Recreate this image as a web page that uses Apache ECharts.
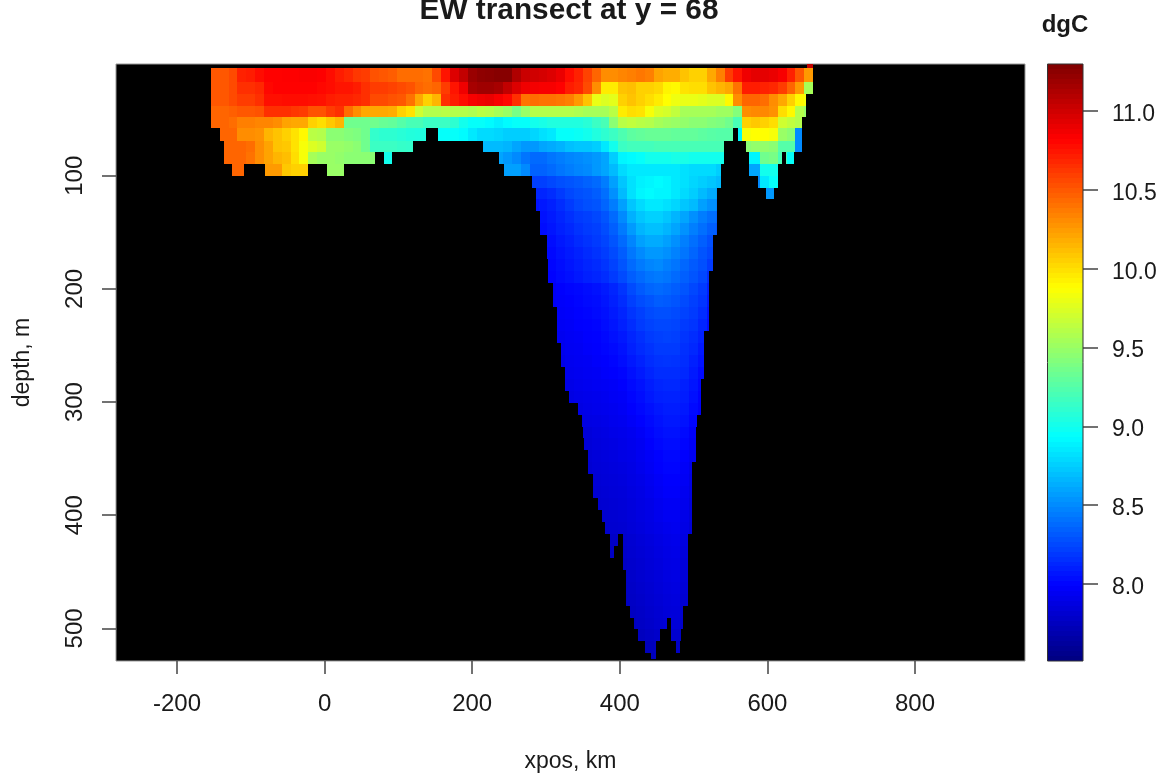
<!DOCTYPE html>
<html><head><meta charset="utf-8">
<style>html,body{margin:0;padding:0;background:#fff}#c{width:1170px;height:778px}</style>
<script src="https://cdn.jsdelivr.net/npm/echarts@6/dist/echarts.min.js"></script>
</head><body><div id="c"></div>
<script>
const xTicks = [-200,0,200,400,600,800];
const yTicks = [100,200,300,400,500];
const cbTicks = [8,8.5,9,9.5,10,10.5,11];
const tempMin = 7.512, tempMax = 11.298;
const jet = ['#00007F','#0000FF','#007FFF','#00FFFF','#7FFF7F','#FFFF00','#FF7F00','#FF0000','#7F0000'];
const blockStartKm = -154, blockKm = 12;
const depthEdges = [1.3,5.2,17,27.6,38.2,48,58,69,79,89.5,100,110.5,121,131.6,142.2,152.8,163.3,173.9,184.4,195,205.5,216,226.6,237.1,247.7,258.3,268.8,279.4,289.9,300.5,311,321.6,332.1,342.7,353.2,363.8,374.3,384.9,395.4,406,416.5,427.1,437.6,448.2,458.7,469.3,479.8,490.4,500.9,511.5,522,527.4];
// water extent of each depth row, km
const rowSpans = [
[[653.5,666]],
[[-154,666]],[[-154,666]],[[-154,652]],[[-154,652]],[[-154,647.5]],
[[-142,137],[154,553],[560,647.5]],
[[-136.5,119.6],[214.5,541],[571,647.5]],
[[-136.5,68],[80.4,91],[236,541],[575,620],[625,636]],
[[-126,-109],[-81,-21],[3,26],[243,537],[575,615]],
[[280.5,537],[587,615]],[[286,531.6],[598,609]],[[286,531.6]],[[292,531.6]],[[292,531.6]],
[[298.5,526]],[[298.5,526]],[[302.6,526]],[[302.6,520.7]],[[309,520.7]],[[309,520.7]],
[[315,520.7]],[[315,520.7]],[[315,514]],[[320,514]],[[320,514]],[[325.6,514]],[[325.6,510]],
[[331,510]],[[343,510]],[[348.6,504]],[[348.6,503]],[[351,503]],[[357,503]],[[357,497.6]],
[[363.5,497.6]],[[363.5,497.6]],[[370,497.6]],[[375.5,497.6]],[[380,497.6]],
[[386.5,398],[404,492]],[[386.5,392],[404,492]],[[404,492]],[[408,492]],[[408,492]],[[408,492]],
[[414,485.5]],[[419,464],[469,485.5]],[[425,454],[469,483]],[[433,449],[476,483]],[[442,449]]
];
// first 12 km block of each row
const rowFirstBlock = [67,0,0,0,0,0,0,0,0,0,
36,36,36,36,36,36,36,36,36,36,36,36,36,36,
39,39,40,40,40,41,41,42,42,42,42,43,43,43,44,44,45,45,46,46,46,46,47,47,48,49,49];
const rowTemps = [
[11.05],
[10.5,10.5,10.55,10.7,10.72,10.78,10.82,10.82,10.83,10.83,10.84,10.84,10.83,10.78,10.72,10.68,10.62,10.6,10.52,10.5,10.48,10.42,10.42,10.42,10.4,10.55,10.75,10.95,11.05,11.2,11.24,11.25,11.27,11.27,11.12,11.02,11,10.98,10.95,10.9,10.78,10.7,10.58,10.45,10.3,10.3,10.33,10.35,10.38,10.35,10.22,10.18,10.18,10.1,10.05,10.05,10.2,10.35,10.6,10.75,10.88,10.92,10.92,10.9,10.85,10.7,10.5,10.25],
[10.5,10.5,10.55,10.65,10.65,10.68,10.8,10.82,10.82,10.82,10.82,10.82,10.8,10.78,10.75,10.75,10.72,10.65,10.6,10.6,10.58,10.55,10.52,10.45,10.42,10.45,10.6,10.75,10.88,11.15,11.18,11.18,11.15,11.05,10.95,10.88,10.86,10.85,10.85,10.82,10.72,10.68,10.55,10.3,9.95,9.95,10.1,10.12,10.05,10.05,10.02,9.92,9.9,9.98,10,10,10.1,10.15,10.2,10.4,10.72,10.72,10.7,10.68,10.6,10.45,10.25,9.55],
[10.5,10.5,10.55,10.6,10.6,10.65,10.77,10.77,10.78,10.78,10.78,10.77,10.76,10.72,10.7,10.7,10.68,10.65,10.55,10.55,10.52,10.5,10.4,10.2,10.05,10.15,10.65,10.72,10.78,10.85,10.88,10.9,10.85,10.8,10.65,10.4,10.42,10.4,10.4,10.38,10.35,10.25,10.1,9.8,9.75,9.78,10.05,10.1,10.05,10,9.95,9.88,9.82,9.8,9.8,9.78,9.75,9.75,9.9,10.3,10.45,10.45,10.42,10.3,10.2,10.05,9.9,9.85],
[10.45,10.45,10.47,10.5,10.5,10.52,10.65,10.65,10.65,10.62,10.6,10.52,10.52,10.6,10.65,10.42,10.3,10.2,10.2,10.2,10.18,10.05,9.98,9.7,9.6,9.6,9.62,9.6,9.6,9.58,9.62,9.6,9.55,9.5,9.38,9.5,9.6,9.6,9.6,9.6,9.6,9.58,9.55,9.55,9.55,9.62,9.95,10,9.98,9.85,9.75,9.72,9.65,9.55,9.55,9.55,9.55,9.52,9.52,9.42,10.3,10.32,10.32,10.28,10,9.9,9.6,9.5],
[10.45,10.45,10.42,10.35,10.35,10.33,10.33,10.3,10.22,10.2,10.2,10.05,10,10.08,10.15,9.35,9.35,9.35,9.35,9.32,9.3,9.25,9.2,9.2,9.15,9.15,9.15,9.1,9,8.95,8.95,8.92,8.88,8.92,8.95,8.95,9,9.02,9.05,9.05,9.05,9.05,9.08,9.15,9.2,9.45,9.62,9.65,9.62,9.6,9.55,9.52,9.5,9.48,9.45,9.45,9.42,9.4,9.35,9.2,10.05,10.08,10.05,10,9.7,9.65,9.6,null],
[null,10.45,10.45,10.3,10.3,10.28,10.15,10.1,10.05,9.98,9.9,9.62,9.6,9.45,9.45,9.42,9.4,9.35,9.12,9.1,9.1,9.08,9.06,9.05,9.05,8.95,8.95,8.95,8.92,8.85,8.8,8.8,8.78,8.75,8.75,8.75,8.78,8.82,8.85,8.95,8.95,8.97,9,9.05,9.1,9.15,9.22,9.28,9.3,9.32,9.32,9.32,9.3,9.3,9.3,9.28,9.26,9.25,9.25,8.9,9.85,9.88,9.88,9.85,9.5,9.45,8.5,null],
[null,10.45,10.45,10.45,10.42,10.3,10.22,10.1,10.08,9.98,9.85,9.75,9.7,9.5,9.5,9.48,9.45,9.35,9.15,9.15,9.15,9.13,9.12,null,null,null,null,null,null,null,8.68,8.68,8.68,8.66,8.6,8.55,8.55,8.6,8.62,8.65,8.7,8.72,8.72,8.75,8.85,9,9.15,9.18,9.18,9.18,9.2,9.2,9.2,9.2,9.2,9.2,9.2,9.2,null,null,9.45,9.48,9.48,9.45,9.25,9.25,8.5,null],
[null,10.45,10.45,10.45,10.4,10.3,10.22,10.15,10.12,10,9.85,9.55,9.5,9.5,9.48,9.45,9.45,9.45,9.45,9,9,null,null,null,null,null,null,null,null,null,null,null,8.6,8.55,8.5,8.42,8.38,8.38,8.42,8.45,8.48,8.5,8.52,8.55,8.6,8.75,8.9,8.92,8.95,9,9,9,9.02,9.02,9,9,9,9,null,null,8.9,8.9,9.35,9.38,9.2,8.95,null,null],
[null,null,10.45,10.45,null,null,10.25,10.25,10.08,10.05,10.05,null,null,9.5,9.5,null,null,null,null,null,null,null,null,null,null,null,null,null,null,null,null,null,null,8.58,8.58,8.5,8.35,8.35,8.38,8.42,8.45,8.48,8.5,8.55,8.6,8.68,8.8,8.85,8.85,8.85,8.85,8.85,8.85,8.82,8.8,8.8,8.8,8.75,null,null,8.6,8.6,9,9,9,null,null,null],
[8.22,8.22,8.25,8.28,8.3,8.32,8.35,8.38,8.45,8.58,8.72,8.82,8.88,8.9,8.92,8.9,8.85,8.82,8.78,8.75,8.72,8.68,null,null,null,8.5,8.85,8.95,8.95],
[8.12,8.12,8.15,8.2,8.25,8.28,8.3,8.33,8.4,8.52,8.68,8.82,8.9,8.92,8.9,8.9,8.85,8.8,8.75,8.68,8.62,8.58,null,null,null,null,8.55,8.55],
[8.05,8.07,8.1,8.15,8.2,8.25,8.28,8.3,8.36,8.45,8.58,8.72,8.8,8.85,8.85,8.82,8.78,8.72,8.68,8.58,8.52,8.48],
[null,8.05,8.08,8.12,8.16,8.2,8.22,8.25,8.3,8.38,8.5,8.64,8.72,8.76,8.76,8.72,8.66,8.6,8.52,8.45,8.4,8.36],
[null,8.03,8.06,8.1,8.13,8.17,8.2,8.22,8.27,8.34,8.44,8.56,8.66,8.7,8.7,8.66,8.6,8.53,8.46,8.4,8.34,8.3],
[null,null,8.03,8.07,8.1,8.14,8.17,8.2,8.24,8.3,8.38,8.48,8.58,8.62,8.62,8.58,8.52,8.46,8.4,8.34,8.28],
[null,null,8.01,8.05,8.08,8.11,8.14,8.17,8.21,8.26,8.33,8.43,8.5,8.55,8.55,8.52,8.47,8.42,8.36,8.3,8.25],
[null,null,8,8.03,8.06,8.09,8.12,8.14,8.18,8.23,8.3,8.38,8.44,8.48,8.5,8.46,8.42,8.37,8.32,8.28,8.2],
[null,null,7.99,8.02,8.04,8.07,8.1,8.12,8.15,8.2,8.26,8.33,8.38,8.42,8.44,8.42,8.38,8.34,8.3,8.25,8.15],
[null,null,7.95,7.98,8,8.01,8.03,8.05,8.08,8.12,8.18,8.26,8.32,8.36,8.38,8.36,8.33,8.3,8.25,8.2,8.1],
[null,null,7.95,7.97,7.98,8,8.02,8.03,8.06,8.1,8.15,8.22,8.27,8.3,8.33,8.32,8.3,8.26,8.22,8.18,8.08],
[null,null,null,7.96,7.97,7.99,8,8.02,8.04,8.08,8.12,8.18,8.22,8.26,8.28,8.28,8.26,8.23,8.2,8.15,8.05],
[null,null,null,7.95,7.96,7.98,7.99,8,8.03,8.06,8.1,8.15,8.2,8.23,8.25,8.25,8.24,8.2,8.18,8.12,8.03],
[null,null,null,7.93,7.95,7.96,7.98,7.99,8.01,8.04,8.07,8.12,8.16,8.2,8.22,8.23,8.22,8.18,8.15,8.1],
[7.92,7.94,7.95,7.97,7.98,8,8.02,8.05,8.1,8.14,8.17,8.2,8.2,8.2,8.16,8.13,8.07],
[7.9,7.93,7.94,7.95,7.97,7.98,8,8.03,8.07,8.11,8.15,8.17,8.18,8.17,8.15,8.1,8.05],
[7.92,7.93,7.94,7.95,7.97,7.98,8,8.04,8.08,8.12,8.15,8.15,8.15,8.13,8.08,8.02],
[7.9,7.92,7.93,7.94,7.95,7.96,7.98,8.02,8.05,8.09,8.12,8.13,8.13,8.1,8.06,8],
[7.88,7.9,7.91,7.92,7.93,7.95,7.96,8,8.03,8.07,8.1,8.11,8.11,8.09,8.04,7.98],
[7.88,7.9,7.91,7.92,7.93,7.95,7.98,8.01,8.04,8.07,8.09,8.09,8.07,8.02,7.97],
[7.86,7.88,7.89,7.9,7.92,7.93,7.96,7.99,8.02,8.05,8.07,8.07,8.05,8],
[7.85,7.87,7.88,7.9,7.91,7.93,7.96,8,8.03,8.05,8.05,8.02,7.97],
[7.84,7.86,7.87,7.88,7.9,7.92,7.94,7.98,8.01,8.03,8.03,8,7.95],
[7.83,7.85,7.86,7.87,7.89,7.9,7.93,7.96,7.99,8.01,8.01,7.98,7.93],
[7.82,7.84,7.85,7.86,7.87,7.89,7.92,7.95,7.98,8,8,7.96,7.9],
[7.83,7.84,7.85,7.86,7.88,7.9,7.93,7.96,7.98,7.98,7.95,7.88],
[7.82,7.83,7.84,7.85,7.87,7.89,7.92,7.95,7.97,7.97,7.93,7.87],
[7.81,7.82,7.83,7.84,7.86,7.88,7.9,7.93,7.95,7.95,7.92,7.85],
[7.81,7.82,7.83,7.85,7.87,7.89,7.92,7.94,7.94,7.9,7.84],
[7.8,7.81,7.82,7.84,7.86,7.88,7.9,7.92,7.93,7.89,7.83],
[7.78,7.8,7.82,7.84,7.86,7.88,7.9,7.91,7.87],
[7.77,7.79,7.81,7.83,7.85,7.87,7.89,7.9,7.86],
[7.78,7.8,7.82,7.84,7.86,7.88,7.89,7.85],
[7.77,7.79,7.81,7.83,7.85,7.87,7.88,7.84],
[7.76,7.78,7.8,7.82,7.84,7.86,7.87,7.83],
[7.75,7.77,7.79,7.81,7.83,7.85,7.86,7.82],
[7.76,7.78,7.8,7.82,7.84,7.85,7.81],
[7.75,7.77,7.79,7.81,7.83,7.84,7.8],
[7.75,7.77,7.79,7.81,7.81,7.78],
[7.74,7.76,null,7.78],
[7.73,7.75]
];
const cells = [];
rowTemps.forEach((vals, r) => {
  vals.forEach((v, j) => {
    if (v === null) return;
    const b0 = blockStartKm + blockKm * (rowFirstBlock[r] + j), b1 = b0 + blockKm;
    rowSpans[r].forEach(s => {
      const x0 = Math.max(b0, s[0]), x1 = Math.min(b1, s[1]);
      if (x1 > x0) cells.push([x0, x1, depthEdges[r], depthEdges[r + 1], v]);
    });
  });
});
const barLevels = [];
for (let i = 0; i < 120; i++) {
  const lo = tempMin + (tempMax - tempMin) * i / 120, hi = tempMin + (tempMax - tempMin) * (i + 1) / 120;
  barLevels.push([0, 1, lo, hi, (lo + hi) / 2]);
}
function rectItem(params, api) {
  const a = api.coord([api.value(0), api.value(2)]), b = api.coord([api.value(1), api.value(3)]);
  const x = Math.round(Math.min(a[0], b[0])), x2 = Math.round(Math.max(a[0], b[0]));
  const y = Math.round(Math.min(a[1], b[1])), y2 = Math.round(Math.max(a[1], b[1]));
  return {type:'rect', shape:{x, y, width:x2 - x, height:y2 - y}, style:{fill:api.visual('color')}};
}
const F = '"Liberation Sans", Arial, sans-serif', TC = '#1a1a1a', TK = '#444';
const chart = echarts.init(document.getElementById('c'), null, {renderer:'canvas'});
chart.setOption({
  animation:false,
  backgroundColor:'#fff',
  title:[
    {text:'EW transect at y = 68', left:564, textAlign:'center', top:-9, textStyle:{fontFamily:F, fontSize:29.8, fontWeight:'bold', color:TC}},
    {text:'dgC', left:1060, textAlign:'center', top:8, textStyle:{fontFamily:F, fontSize:24, fontWeight:'bold', color:TC}}
  ],
  visualMap:{show:false, seriesIndex:[0,1], dimension:4, min:tempMin, max:tempMax, inRange:{color:jet}},
  grid:[
    {left:116, top:64, width:909, height:597, show:true, backgroundColor:'#000', borderColor:'#999', borderWidth:1},
    {left:1047.5, top:64, width:35.5, height:597, show:true, backgroundColor:'transparent', borderColor:'#333', borderWidth:1, z:5},
    {left:1047.5, top:67.5, width:35.5, height:597, show:false}
  ],
  xAxis:[
    {gridIndex:0, type:'value', position:'bottom', min:-282.6, max:949, name:'xpos, km', nameLocation:'middle', nameGap:89,
     nameTextStyle:{fontFamily:F, fontSize:23, color:TC},
     axisLine:{show:false, onZero:false}, splitLine:{show:false},
     axisTick:{show:true, length:13, customValues:xTicks, lineStyle:{color:TK, width:1.5}},
     axisLabel:{show:true, margin:31, customValues:xTicks, fontFamily:F, fontSize:24, color:TC}},
    {gridIndex:1, type:'value', min:0, max:1, show:false},
    {gridIndex:2, type:'value', min:0, max:1, show:false}
  ],
  yAxis:[
    {gridIndex:0, type:'value', position:'left', inverse:true, min:1.3, max:528.8, name:'depth, m', nameLocation:'middle', nameGap:82, nameRotate:90,
     nameTextStyle:{fontFamily:F, fontSize:23, color:TC},
     axisLine:{show:false, onZero:false}, splitLine:{show:false},
     axisTick:{show:true, length:14, customValues:yTicks, lineStyle:{color:TK, width:1.5}},
     axisLabel:{show:true, margin:29, rotate:90, customValues:yTicks, fontFamily:F, fontSize:24, color:TC}},
    {gridIndex:1, type:'value', position:'right', min:tempMin, max:tempMax,
     axisLine:{show:false, onZero:false}, splitLine:{show:false},
     axisTick:{show:true, length:15, customValues:cbTicks, lineStyle:{color:TK, width:1.5}},
     axisLabel:{show:false}},
    {gridIndex:2, type:'value', position:'right', min:tempMin, max:tempMax,
     axisLine:{show:false, onZero:false}, splitLine:{show:false}, axisTick:{show:false},
     axisLabel:{show:true, margin:29, customValues:cbTicks, fontFamily:F, fontSize:23, color:TC, formatter:v=>Number(v).toFixed(1)}}
  ],
  series:[
    {type:'custom', xAxisIndex:0, yAxisIndex:0, data:cells, renderItem:rectItem, encode:{x:[0,1], y:[2,3]}, silent:true, progressive:0, clip:true},
    {type:'custom', xAxisIndex:1, yAxisIndex:1, data:barLevels, renderItem:rectItem, encode:{x:[0,1], y:[2,3]}, silent:true, progressive:0}
  ]
});
</script></body></html>
